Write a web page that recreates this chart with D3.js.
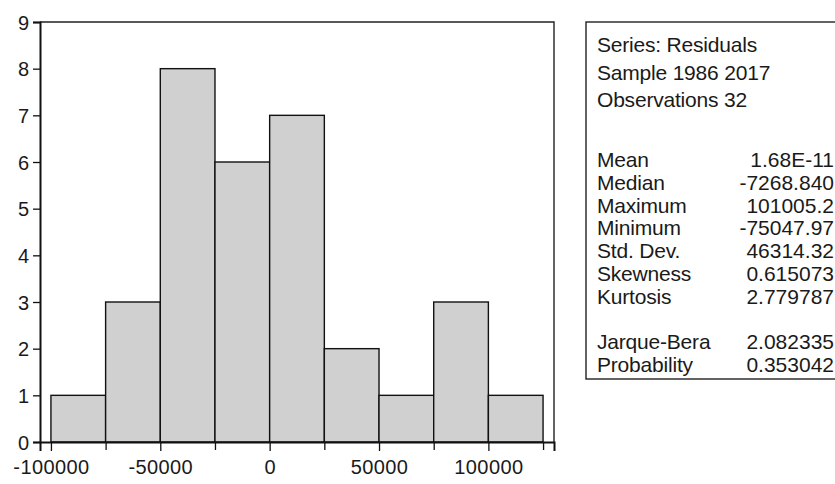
<!DOCTYPE html>
<html>
<head>
<meta charset="utf-8">
<script src="https://cdn.jsdelivr.net/npm/d3@7"></script>
<style>
  body { margin: 0; background: #fff; }
  text { font-family: "Liberation Sans", Arial, sans-serif; fill: #1a1a1a; }
</style>
</head>
<body>
<div id="chart"></div>
<script>
// Data
// =================================
var binEdges = [-100000, -75000, -50000, -25000, 0, 25000, 50000, 75000, 100000, 125000];
var counts = [1, 3, 8, 6, 7, 2, 1, 3, 1];
var xTickValues = [-100000, -50000, 0, 50000, 100000];
var xMinorTicks = [-75000, -25000, 25000, 75000, 125000];
var yTickValues = [0, 1, 2, 3, 4, 5, 6, 7, 8, 9];

var headerLines = ["Series: Residuals", "Sample 1986 2017", "Observations 32"];
var statLabels = ["Mean", "Median", "Maximum", "Minimum", "Std. Dev.", "Skewness", "Kurtosis", "", "Jarque-Bera", "Probability"];
var statValues = ["1.68E-11", "-7268.840", "101005.2", "-75047.97", "46314.32", "0.615073", "2.779787", "", "2.082335", "0.353042"];

// Chart setup
// =================================
var svgWidth = 835;
var svgHeight = 484;
var plot = { left: 40, right: 554, top: 22, bottom: 442 };

var svg = d3.select("#chart")
  .append("svg")
  .attr("width", svgWidth)
  .attr("height", svgHeight);

var x = d3.scaleLinear()
  .domain([-105000, 130000])
  .range([plot.left, plot.right]);

var y = d3.scaleLinear()
  .domain([0, 9])
  .range([plot.bottom, plot.top]);

var bins = counts.map(function(c, i) {
  return { x0: binEdges[i], x1: binEdges[i + 1], count: c };
});

// plain hyphen for negatives, like the original
var fmt = d => String(d);

// bars
svg.append("g")
  .selectAll("rect")
  .data(bins)
  .enter()
  .append("rect")
  .attr("x", d => x(d.x0))
  .attr("y", d => y(d.count))
  .attr("width", d => x(d.x1) - x(d.x0))
  .attr("height", d => y(0) - y(d.count))
  .attr("fill", "#d0d0d0")
  .attr("stroke", "#111")
  .attr("stroke-width", 1.4);

// frame (top and right)
svg.append("path")
  .attr("d", `M${plot.left},${plot.top}H${plot.right}V${plot.bottom}`)
  .attr("fill", "none")
  .attr("stroke", "#222")
  .attr("stroke-width", 1.4);

// axes
var leftAxis = d3.axisLeft(y)
  .tickValues(yTickValues)
  .tickSize(7)
  .tickPadding(4)
  .tickFormat(fmt);

var yAxisG = svg.append("g")
  .attr("transform", `translate(${plot.left},0)`)
  .call(leftAxis);

var bottomAxis = d3.axisBottom(x)
  .tickValues(xTickValues)
  .tickSize(9)
  .tickPadding(9)
  .tickFormat(fmt);

var xAxisG = svg.append("g")
  .attr("transform", `translate(0,${plot.bottom})`)
  .call(bottomAxis);

var minorAxis = d3.axisBottom(x)
  .tickValues(xMinorTicks)
  .tickSize(8)
  .tickFormat("");

svg.append("g")
  .attr("transform", `translate(0,${plot.bottom})`)
  .call(minorAxis)
  .select(".domain").remove();

[yAxisG, xAxisG].forEach(function(g) {
  g.select(".domain")
    .attr("stroke", "#111")
    .attr("stroke-width", 2);
  g.selectAll(".tick text")
    .attr("font-family", "Liberation Sans, Arial, sans-serif")
    .attr("fill", "#1a1a1a");
});
svg.selectAll(".tick line").attr("stroke", "#111").attr("stroke-width", 1.3);
yAxisG.selectAll(".tick text").attr("font-size", "20px").attr("dy", "0.36em");
xAxisG.selectAll(".tick text").attr("font-size", "20px").attr("letter-spacing", "0.4px");

// statistics box
// =================================
var box = { left: 586, top: 22, bottom: 379, right: 840 };
svg.append("rect")
  .attr("x", box.left)
  .attr("y", box.top)
  .attr("width", box.right - box.left)
  .attr("height", box.bottom - box.top)
  .attr("fill", "none")
  .attr("stroke", "#222")
  .attr("stroke-width", 1.4);

var headerBase = 52, headerStep = 27.5;
var statBase = 167, statStep = 22.8;
var statFont = "21px";

svg.selectAll(".header")
  .data(headerLines)
  .enter()
  .append("text")
  .attr("class", "header")
  .attr("x", 597)
  .attr("y", (d, i) => headerBase + i * headerStep)
  .attr("font-size", statFont)
  .attr("letter-spacing", "-0.2px")
  .text(d => d);

svg.selectAll(".statLabel")
  .data(statLabels)
  .enter()
  .append("text")
  .attr("class", "statLabel")
  .attr("x", 597)
  .attr("y", (d, i) => statBase + i * statStep)
  .attr("font-size", statFont)
  .attr("letter-spacing", "-0.2px")
  .text(d => d);

svg.selectAll(".statValue")
  .data(statValues)
  .enter()
  .append("text")
  .attr("class", "statValue")
  .attr("x", 834)
  .attr("y", (d, i) => statBase + i * statStep)
  .attr("font-size", statFont)
  .attr("text-anchor", "end")
  .text(d => d);
</script>
</body>
</html>
